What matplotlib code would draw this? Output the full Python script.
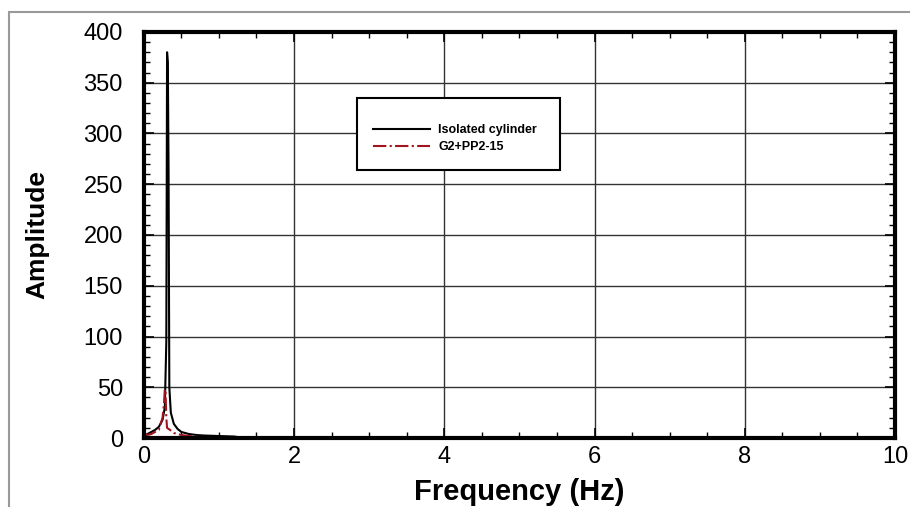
import matplotlib.pyplot as plt
from matplotlib.patches import Rectangle
from matplotlib.ticker import MultipleLocator

plt.rcParams['font.family'] = ['Liberation Sans', 'DejaVu Sans']

# amplitude spectra
freq_iso = [0.0, 0.05, 0.1, 0.15, 0.2, 0.25, 0.28, 0.30, 0.31, 0.32, 0.33, 0.34,
            0.36, 0.40, 0.45, 0.5, 0.6, 0.7, 0.8, 1.0, 1.2, 1.25, 2.0, 3.0, 4.0]
amp_iso = [2, 4, 6, 8, 11, 18, 30, 95, 380, 370, 263, 50,
           25, 14, 9, 6, 4, 3, 2.5, 2, 1.5, 1, 0.8, 0.5, 0.3]

freq_g2 = [0.0, 0.05, 0.1, 0.15, 0.2, 0.25, 0.27, 0.28, 0.29, 0.30, 0.31,
           0.35, 0.4, 0.5, 0.6, 0.8, 1.0, 1.2]
amp_g2 = [5, 3, 4, 6, 8, 20, 35, 48, 45, 20, 10,
          8, 5, 3, 2, 1, 0.5, 0.3]

fig = plt.figure(figsize=(9.1, 5.07), dpi=100)
ax = fig.add_axes([0.158, 0.136, 0.8255, 0.801])

# grey frame around the whole picture
fig.patches.append(Rectangle((9 / 910, -0.1), 1.2, 1 - 12 / 507 + 0.1,
                             transform=fig.transFigure, fill=False,
                             edgecolor='#999999', linewidth=1.5))

ax.plot(freq_iso, amp_iso, color='black', linewidth=1.5, label='Isolated cylinder')
ax.plot(freq_g2, amp_g2, color='#a0141e', linewidth=1.5, linestyle='-.', label='G2+PP2-15')

ax.set_xlim(0, 10)
ax.set_ylim(0, 400)
ax.xaxis.set_major_locator(MultipleLocator(2))
ax.xaxis.set_minor_locator(MultipleLocator(0.5))
ax.yaxis.set_major_locator(MultipleLocator(50))
ax.yaxis.set_minor_locator(MultipleLocator(10))
ax.grid(True, which='major', color='#333333', linewidth=1)
ax.tick_params(which='both', direction='in', top=True, right=True, labelsize=17)
ax.tick_params(which='major', length=7, width=1.2)
ax.tick_params(which='minor', length=4, width=1)
ax.tick_params(axis='x', pad=6)
ax.tick_params(axis='y', pad=15)
for s in ax.spines.values():
    s.set_linewidth(3)

ax.set_xlabel('Frequency (Hz)', fontsize=21, fontweight='bold', labelpad=7)
ax.set_ylabel('Amplitude', fontsize=19, fontweight='bold', labelpad=25)

leg = ax.legend(loc='upper left', bbox_to_anchor=(0.2836 + 0.011, 0.837 - 0.046),
                prop={'weight': 'bold', 'size': 9}, frameon=False,
                borderpad=0.6, borderaxespad=0, handlelength=4.6,
                handletextpad=0.65, labelspacing=0.4)
ax.add_patch(Rectangle((0.2836, 0.660), 0.2704, 0.177, transform=ax.transAxes,
                       facecolor='white', edgecolor='black', linewidth=1.5, zorder=4))
leg.set_zorder(5)

fig.savefig('out.png', dpi=100)
